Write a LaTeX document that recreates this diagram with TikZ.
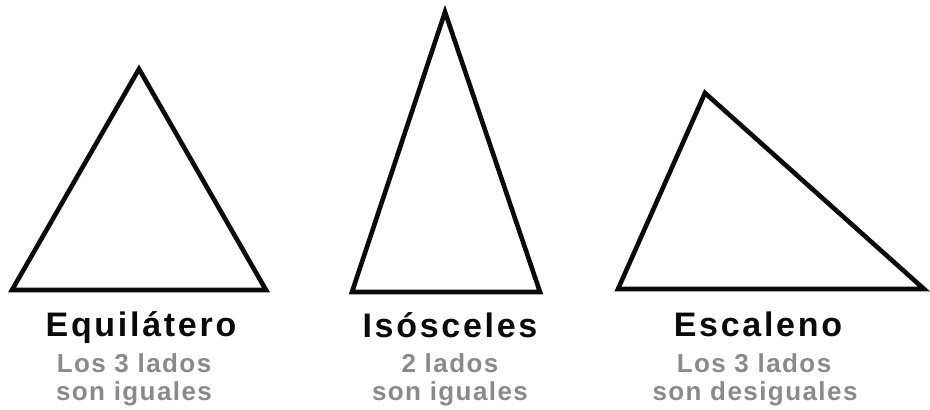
\documentclass[tikz,border=0pt]{standalone}
\usepackage{fontspec}
\setmainfont{Liberation Sans}
\newfontfamily\titlefont[LetterSpace=8]{Liberation Sans Bold}
\newfontfamily\subfont[LetterSpace=5.5]{Liberation Sans Bold}
\definecolor{subgray}{HTML}{8A8A8A}
\definecolor{inkblack}{HTML}{0A0A0A}
\begin{document}
\begin{tikzpicture}[x=1pt,y=-1pt,
  tri/.style={draw=inkblack,line width=4.6pt,line join=miter},
  title/.style={anchor=base,inner sep=0pt,text=inkblack,font=\titlefont\fontsize{34}{38}\selectfont},
  sub/.style={anchor=base,inner sep=0pt,text=subgray,font=\subfont\fontsize{26}{29}\selectfont}]
\useasboundingbox (0,0) rectangle (930,410);
\fill[white] (0,0) rectangle (930,410);
% equilateral
\coordinate (e1) at (12,290);
\coordinate (e2) at (266,290);
\coordinate (e3) at (139,69);
\draw[tri] (e1) -- (e2) -- (e3) -- cycle;
% isosceles
\coordinate (i1) at (352,292);
\coordinate (i2) at (540,292);
\coordinate (i3) at (445,12);
\draw[tri] (i1) -- (i2) -- (i3) -- cycle;
% scalene
\coordinate (c1) at (618,289);
\coordinate (c2) at (924,289);
\coordinate (c3) at (705,93);
\draw[tri] (c1) -- (c2) -- (c3) -- cycle;
% labels
\node[title] (t1) at (141,336) {Equilátero};
\node[sub] (s1a) at (134,372) {Los 3 lados};
\node[sub] (s1b) at (134,400) {son iguales};
\node[title] (t2) at (450,337) {Isósceles};
\node[sub] (s2a) at (450,372) {2 lados};
\node[sub] (s2b) at (450,400) {son iguales};
\node[title] (t3) at (758,336) {Escaleno};
\node[sub] (s3a) at (754,372) {Los 3 lados};
\node[sub] (s3b) at (755,400) {son desiguales};
\end{tikzpicture}
\end{document}
